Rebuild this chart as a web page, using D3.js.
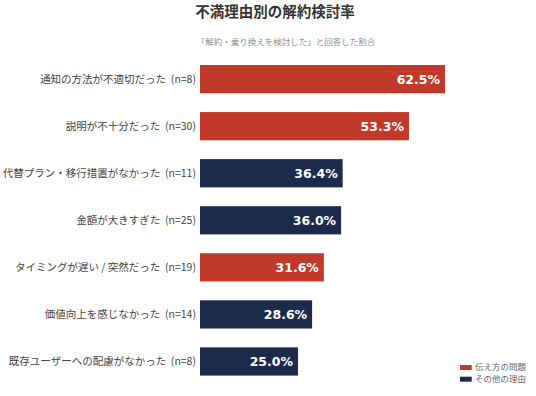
<!DOCTYPE html>
<html>
<head>
<meta charset="utf-8">
<script src="https://cdn.jsdelivr.net/npm/d3@7"></script>
<style>
  body { margin: 0; background: #fff; }
  svg { display: block; font-family: "Noto Sans CJK JP", "Noto Sans", sans-serif; }
</style>
</head>
<body>
<script>
var width = 536,
    height = 396;

// Data
var reasons = [
    "通知の方法が不適切だった (n=8)",
    "説明が不十分だった (n=30)",
    "代替プラン・移行措置がなかった (n=11)",
    "金額が大きすぎた (n=25)",
    "タイミングが遅い / 突然だった (n=19)",
    "価値向上を感じなかった (n=14)",
    "既存ユーザーへの配慮がなかった (n=8)"
];
var rates = [62.5, 53.3, 36.4, 36.0, 31.6, 28.6, 25.0];
var groups = ["伝え方の問題", "伝え方の問題", "その他の理由", "その他の理由", "伝え方の問題", "その他の理由", "その他の理由"];
var legendLabels = ["伝え方の問題", "その他の理由"];

var rows = reasons.map(function(r, i) {
    return { label: r, value: rates[i], group: groups[i] };
});

var color = d3.scaleOrdinal()
    .domain(legendLabels)
    .range(["#c0392b", "#1c2a4c"]);

var x = d3.scaleLinear()
    .domain([0, 100])
    .range([200, 592]);

var y = d3.scaleBand()
    .domain(reasons)
    .range([55.6, 385])
    .paddingInner(0.4)
    .paddingOuter(0.2);

var svg = d3.select("body").append("svg")
    .attr("width", width)
    .attr("height", height);

// Title + subtitle
svg.append("text")
    .attr("x", 275)
    .attr("y", 17)
    .attr("text-anchor", "middle")
    .attr("font-size", 14.5)
    .attr("font-weight", 700)
    .style("fill", "#333")
    .text("不満理由別の解約検討率");

svg.append("text")
    .attr("x", 286)
    .attr("y", 45)
    .attr("text-anchor", "middle")
    .attr("font-size", 8.5)
    .style("fill", "#8a8f99")
    .text("「解約・乗り換えを検討した」と回答した割合");

// Bars
var bar = svg.append("g").selectAll("g")
    .data(rows)
    .enter().append("g");

bar.append("rect")
    .attr("x", x(0))
    .attr("y", function(d) { return y(d.label); })
    .attr("width", function(d) { return x(d.value) - x(0); })
    .attr("height", y.bandwidth())
    .attr("fill", function(d) { return color(d.group); });

// Category labels (left)
bar.append("text")
    .attr("x", x(0) - 4)
    .attr("y", function(d) { return y(d.label) + y.bandwidth() / 2; })
    .attr("dy", "0.35em")
    .attr("text-anchor", "end")
    .attr("font-size", 10.5)
    .style("fill", "#444")
    .style("white-space", "pre")
    .text(function(d) { return d.label.replace(" (", "  ("); });

// Value labels inside bars
bar.append("text")
    .attr("x", function(d) { return x(d.value) - 5; })
    .attr("y", function(d) { return y(d.label) + y.bandwidth() / 2; })
    .attr("dy", "0.36em")
    .attr("text-anchor", "end")
    .attr("font-size", 12.5)
    .attr("font-weight", 700)
    .style("font-family", "'DejaVu Sans', sans-serif")
    .style("fill", "#fff")
    .text(function(d) { return d.value.toFixed(1) + "%"; });

// Legend
var legend = svg.append("g").selectAll("g")
    .data(legendLabels)
    .enter().append("g")
    .attr("transform", function(d, i) { return "translate(460," + (365 + i * 11.7) + ")"; });

legend.append("rect")
    .attr("width", 11.7)
    .attr("height", 5)
    .attr("fill", function(d) { return color(d); });

legend.append("text")
    .attr("x", 15)
    .attr("y", 2.5)
    .attr("dy", "0.35em")
    .attr("font-size", 8.5)
    .style("fill", "#666")
    .text(function(d) { return d; });
</script>
</body>
</html>
